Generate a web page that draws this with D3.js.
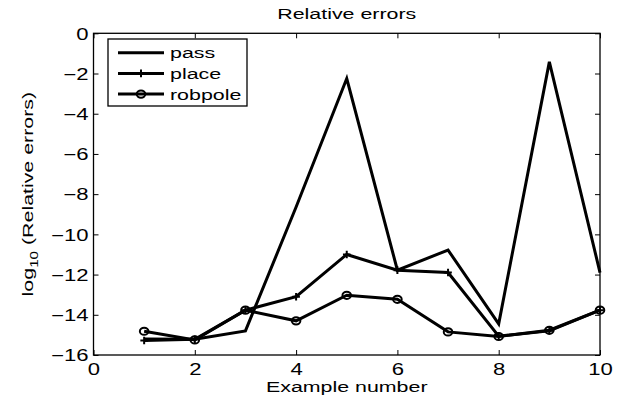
<!DOCTYPE html>
<html>
<head>
<meta charset="utf-8">
<script src="https://cdn.jsdelivr.net/npm/d3@7"></script>
<style>
  html, body { margin: 0; padding: 0; background: #fff; }
  svg { display: block; font-family: "Liberation Sans", Arial, Helvetica, sans-serif; }
</style>
</head>
<body>
<svg id="chart" width="624" height="400"></svg>
<script>
// Example indices and log10 relative errors for each method
const examples = [1, 2, 3, 4, 5, 6, 7, 8, 9, 10];
const passErr = [-15.2, -15.22, -14.8, -8.64, -2.25, -11.78, -10.78, -14.45, -1.42, -11.9];
const placeErr = [-15.28, -15.22, -13.77, -13.1, -11.0, -11.78, -11.9, -15.06, -14.8, -13.77];
const robpoleErr = [-14.82, -15.25, -13.77, -14.3, -13.03, -13.23, -14.85, -15.08, -14.77, -13.77];
const xTicks = [0, 2, 4, 6, 8, 10];
const yTicks = [0, -2, -4, -6, -8, -10, -12, -14, -16];

const seriesList = [
  { name: "pass", values: passErr, marker: "none" },
  { name: "place", values: placeErr, marker: "plus" },
  { name: "robpole", values: robpoleErr, marker: "circle" }
];

const svg = d3.select("#chart");
const plotL = 93.5, plotR = 600, plotT = 33.3, plotB = 355;

const x = d3.scaleLinear().domain([0, 10]).range([plotL, plotR]);
const y = d3.scaleLinear().domain([-16, 0]).range([plotB, plotT]);

const tickLen = 5;
const fontSize = 15.5;
const tickFontSize = 16;
const widen = 1.38;   // horizontal glyph stretch of the wide sans face

// Place a text at (tx, ty) with its glyphs widened along the reading direction
function placeText(sel, tx, ty, rot) {
  sel.attr("x", 0).attr("y", 0)
    .attr("transform", `translate(${tx},${ty})${rot ? ` rotate(${rot})` : ""} scale(${widen},1)`);
  return sel;
}

// Frame
svg.append("rect")
  .attr("x", plotL).attr("y", plotT)
  .attr("width", plotR - plotL).attr("height", plotB - plotT)
  .attr("fill", "none").attr("stroke", "#000").attr("stroke-width", 1.3);

// Axes with inward ticks
const xAxisB = d3.axisBottom(x).tickValues(xTicks).tickSizeInner(-tickLen).tickSizeOuter(0)
  .tickFormat(d => d3.format("d")(d));
const xAxisT = d3.axisTop(x).tickValues(xTicks).tickSizeInner(-tickLen).tickSizeOuter(0).tickFormat("");
const yAxisL = d3.axisLeft(y).tickValues(yTicks).tickSizeInner(-tickLen).tickSizeOuter(0)
  .tickFormat(d => d < 0 ? "\u2212" + Math.abs(d) : String(d));
const yAxisR = d3.axisRight(y).tickValues(yTicks).tickSizeInner(-tickLen).tickSizeOuter(0).tickFormat("");

function styleAxis(g) {
  g.select(".domain").remove();
  g.selectAll(".tick line").attr("stroke", "#000").attr("stroke-width", 1);
  g.selectAll(".tick text").attr("fill", "#000").attr("font-size", tickFontSize)
    .attr("font-family", "Liberation Sans, Arial, sans-serif");
}

const gxB = svg.append("g").attr("transform", `translate(0,${plotB})`).call(xAxisB).call(styleAxis);
svg.append("g").attr("transform", `translate(0,${plotT})`).call(xAxisT).call(styleAxis);
const gyL = svg.append("g").attr("transform", `translate(${plotL},0)`).call(yAxisL).call(styleAxis);
svg.append("g").attr("transform", `translate(${plotR},0)`).call(yAxisR).call(styleAxis);

gxB.selectAll(".tick text").each(function () {
  placeText(d3.select(this).attr("dy", null).attr("text-anchor", "middle"), 0, 20);
});
gyL.selectAll(".tick text").each(function () {
  placeText(d3.select(this).attr("dy", "0.36em").attr("text-anchor", "end"), -5, 0);
});

// Series lines
const line = d3.line().x((d, i) => x(examples[i])).y(d => y(d));
const plotG = svg.append("g");

function drawMarker(g, kind, cx, cy) {
  if (kind === "circle") {
    g.append("ellipse").attr("cx", cx).attr("cy", cy).attr("rx", 4.3).attr("ry", 3.6)
      .attr("fill", "none").attr("stroke", "#000").attr("stroke-width", 2);
  } else if (kind === "plus") {
    const s = 3.8;
    g.append("path")
      .attr("d", `M${cx - s},${cy}H${cx + s}M${cx},${cy - s}V${cy + s}`)
      .attr("stroke", "#000").attr("stroke-width", 2).attr("fill", "none");
  }
}

seriesList.forEach(s => {
  plotG.append("path")
    .datum(s.values)
    .attr("d", line)
    .attr("fill", "none")
    .attr("stroke", "#000")
    .attr("stroke-width", 3)
    .attr("stroke-linejoin", "miter");
  s.values.forEach((v, i) => drawMarker(plotG, s.marker, x(examples[i]), y(v)));
});

// Legend
const lg = svg.append("g");
const lgX = 108, lgY = 39, lgW = 139, lgH = 67;
lg.append("rect").attr("x", lgX).attr("y", lgY).attr("width", lgW).attr("height", lgH)
  .attr("fill", "#fff").attr("stroke", "#000").attr("stroke-width", 1.3);
seriesList.forEach((s, i) => {
  const ry = lgY + 13.7 + i * 20.7;
  lg.append("line").attr("x1", lgX + 10).attr("x2", lgX + 56).attr("y1", ry).attr("y2", ry)
    .attr("stroke", "#000").attr("stroke-width", 3);
  drawMarker(lg, s.marker, lgX + 33, ry);
  placeText(lg.append("text").attr("dy", "0.35em")
    .attr("font-size", fontSize).attr("fill", "#000").text(s.name), lgX + 62, ry);
});

// Title and axis labels
placeText(svg.append("text").attr("text-anchor", "middle").attr("font-size", fontSize).attr("fill", "#000")
  .text("Relative errors"), (plotL + plotR) / 2, 18.5);

placeText(svg.append("text").attr("text-anchor", "middle").attr("font-size", fontSize).attr("fill", "#000")
  .text("Example number"), (plotL + plotR) / 2, 392);

const yl = placeText(svg.append("text")
  .attr("text-anchor", "middle").attr("font-size", fontSize).attr("fill", "#000"),
  33, (plotT + plotB) / 2, -90);
yl.append("tspan").text("log");
yl.append("tspan").attr("font-size", 11).attr("dy", 5).text("10");
yl.append("tspan").attr("dy", -5).text(" (Relative errors)");
</script>
</body>
</html>
